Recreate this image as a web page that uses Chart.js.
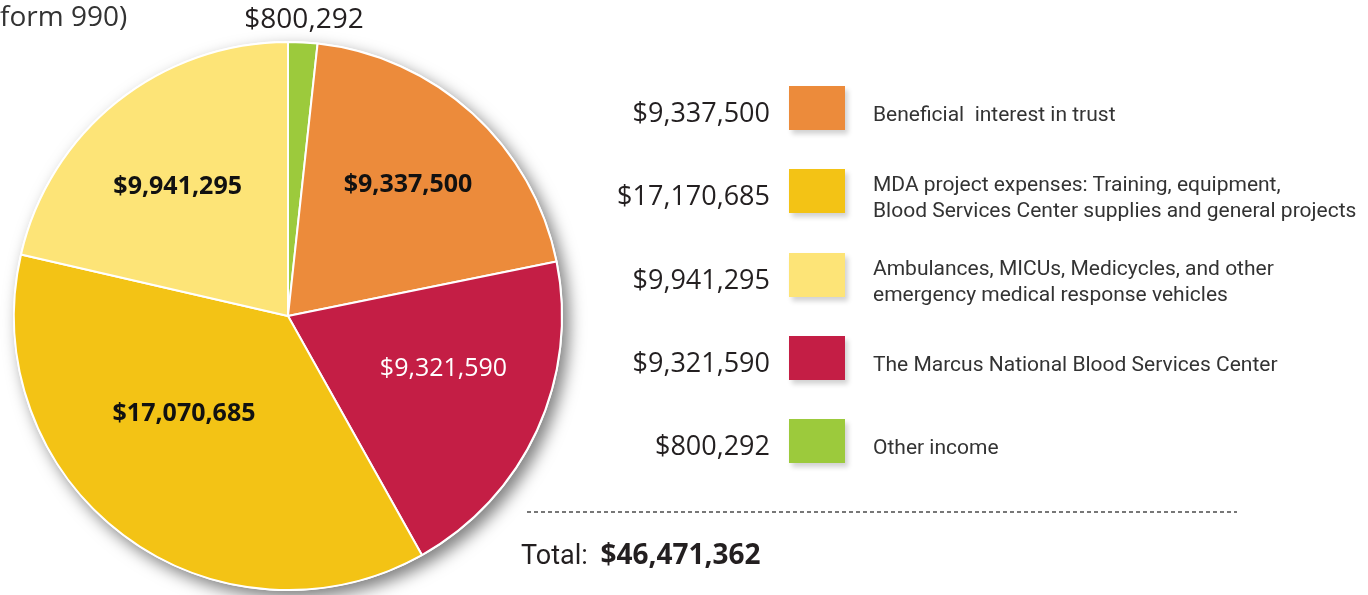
<!DOCTYPE html>
<html>
<head>
<meta charset="utf-8">
<script src="https://cdn.jsdelivr.net/npm/chart.js@4.4.1/dist/chart.umd.min.js"></script>
<style>
  html, body { margin: 0; padding: 0; background: #fff; }
  body { width: 1368px; height: 595px; position: relative; overflow: hidden; font-family: "Open Sans", sans-serif; color: #231f20; }
  #pie { position: absolute; left: 0; top: 0; }
  .abs { position: absolute; white-space: nowrap; }
  #caption { left: 0; top: -3px; font-size: 28px; line-height: 36px; color: #333; }
  .amount { position: absolute; right: 598px; font-size: 27px; line-height: 30px; font-weight: 500; text-align: right; white-space: nowrap; }
  .swatch { position: absolute; left: 789px; width: 56px; height: 44px; box-shadow: 3px 4px 5px rgba(0,0,0,0.18); }
  .desc { position: absolute; left: 873px; font-family: Roboto, sans-serif; font-size: 21px; line-height: 26px; color: #333; white-space: nowrap; }
  #rule { left: 527px; top: 511px; width: 710px; height: 2px;
          background: repeating-linear-gradient(to right, #777 0 4px, transparent 4px 7px); }
  #total { left: 521px; top: 535px; font-family: Roboto, sans-serif; font-size: 27px; line-height: 36px; }
  #total b { font-family: "Open Sans", sans-serif; font-size: 28px; margin-left: 6px; }
</style>
</head>
<body>
<canvas id="pie" width="1368" height="595"></canvas>
<div id="caption" class="abs">form 990)</div>
<div id="legend"></div>
<div id="rule" class="abs"></div>
<div id="total" class="abs"></div>
<script>
// slices, clockwise from 12 o'clock
var categories = [
    'Other income',
    'Beneficial  interest in trust',
    'The Marcus National Blood Services Center',
    'MDA project expenses: Training, equipment,\nBlood Services Center supplies and general projects',
    'Ambulances, MICUs, Medicycles, and other\nemergency medical response vehicles'
];
var values       = [800292, 9337500, 9321590, 17070685, 9941295];
var legendValues = [800292, 9337500, 9321590, 17170685, 9941295];
var colors       = ['#9cca3c', '#ec8b3b', '#c41e45', '#f3c315', '#fde477'];
var labelColors  = ['#231f20', '#111', '#fff', '#111', '#111'];
var labelWeights = ['400', '700', '400', '700', '700'];
var labelSizes   = [28, 25, 25, 25, 25];
var legendOrder  = [1, 3, 4, 2, 0];
var totalValue   = 46471362;

// where each slice label sits: fraction of radius, angle nudge (deg)
var labelRadius = [1.08, 0.65, 0.60, 0.52, 0.62];
var labelNudge  = [0, 0, -5.7, 10, -2];

function money(v) {
    return '$' + v.toLocaleString('en-US');
}

var pieShadow = {
    id: 'pieShadow',
    beforeDatasetsDraw: function (chart) {
        var arc = chart.getDatasetMeta(0).data[0];
        var ctx = chart.ctx;
        ctx.save();
        ctx.shadowColor = 'rgba(0,0,0,0.5)';
        ctx.shadowBlur = 16;
        ctx.shadowOffsetX = 6;
        ctx.shadowOffsetY = 7;
        ctx.fillStyle = '#fff';
        ctx.beginPath();
        ctx.arc(arc.x, arc.y, arc.outerRadius + 1, 0, Math.PI * 2);
        ctx.fill();
        ctx.restore();
    }
};

var sliceLabels = {
    id: 'sliceLabels',
    afterDatasetsDraw: function (chart) {
        var ctx = chart.ctx;
        chart.getDatasetMeta(0).data.forEach(function (arc, i) {
            var a = (arc.startAngle + arc.endAngle) / 2 + labelNudge[i] * Math.PI / 180;
            var r = arc.outerRadius * labelRadius[i];
            ctx.save();
            ctx.fillStyle = labelColors[i];
            ctx.font = labelWeights[i] + ' ' + labelSizes[i] + 'px "Open Sans"';
            ctx.textAlign = 'center';
            ctx.textBaseline = 'middle';
            ctx.fillText(money(values[i]), arc.x + r * Math.cos(a), arc.y + r * Math.sin(a));
            ctx.restore();
        });
    }
};

new Chart(document.getElementById('pie').getContext('2d'), {
    type: 'pie',
    data: {
        labels: categories,
        datasets: [{
            data: values,
            backgroundColor: colors,
            borderColor: '#fff',
            borderWidth: 2,
            hoverOffset: 0,
            radius: 274
        }]
    },
    options: {
        responsive: false,
        animation: false,
        layout: { padding: { left: 14, top: 42, right: 806, bottom: 5 } },
        plugins: {
            legend: { display: false },
            tooltip: { enabled: false }
        }
    },
    plugins: [pieShadow, sliceLabels]
});

// legend on the right
var legend = document.getElementById('legend');
legendOrder.forEach(function (idx, row) {
    var top = Math.round(86 + row * 83.25);
    var mid = top + 22;
    var amt = document.createElement('div');
    amt.className = 'amount';
    amt.style.top = (mid + 4 - 15) + 'px';
    amt.textContent = money(legendValues[idx]);
    legend.appendChild(amt);

    var sw = document.createElement('div');
    sw.className = 'swatch';
    sw.style.top = top + 'px';
    sw.style.background = colors[idx];
    legend.appendChild(sw);

    var lines = categories[idx].split('\n');
    var d = document.createElement('div');
    d.className = 'desc';
    d.style.top = (mid + 6 - lines.length * 13) + 'px';
    d.innerHTML = lines.join('<br>').replace(/  /g, ' &nbsp;');
    legend.appendChild(d);
});

document.getElementById('total').innerHTML = 'Total: <b>' + money(totalValue) + '</b>';
</script>
</body>
</html>
